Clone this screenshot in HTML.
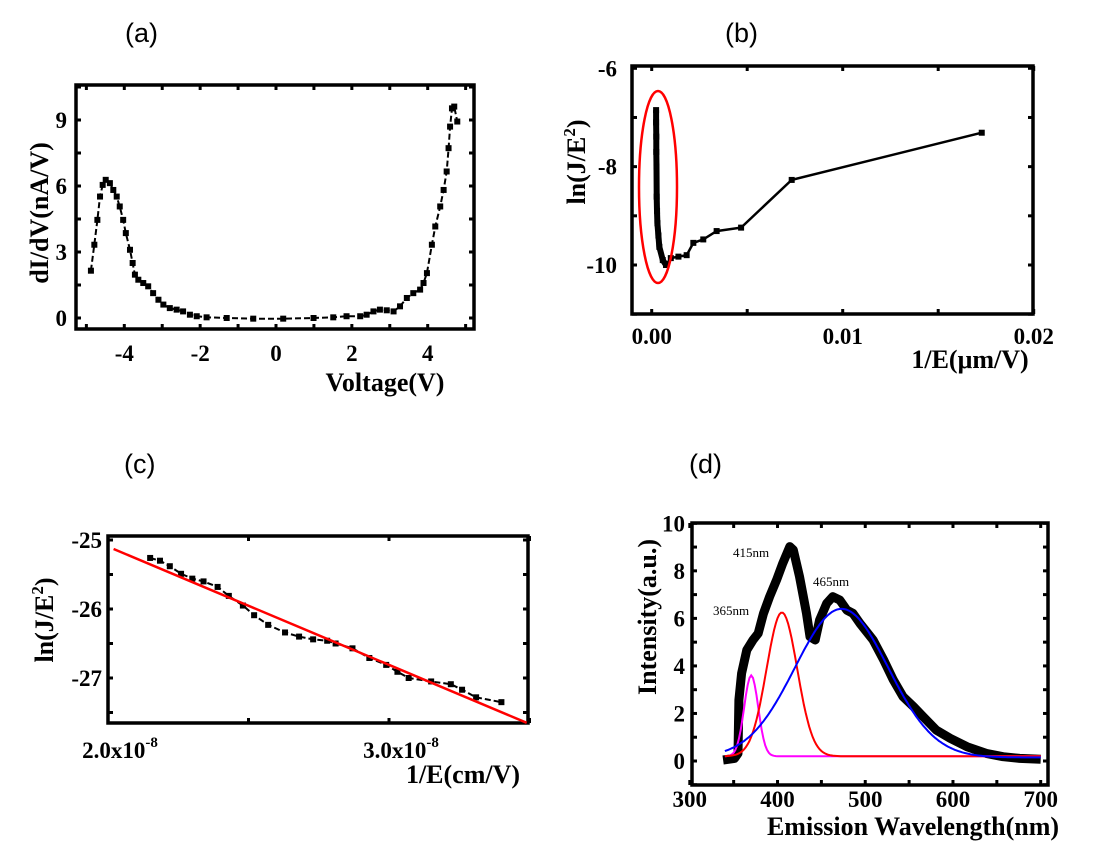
<!DOCTYPE html>
<html><head><meta charset="utf-8"><style>
html,body{margin:0;padding:0;background:#fff;}
svg{display:block;}
.pt{font-family:"Liberation Sans",sans-serif;font-size:27px;fill:#000;}
.tk{font-family:"Liberation Serif",serif;font-weight:bold;font-size:23px;fill:#000;}
.al{font-family:"Liberation Serif",serif;font-weight:bold;font-size:26px;fill:#000;}
.an{font-family:"Liberation Serif",serif;font-size:13px;fill:#000;}
</style></head><body>
<svg id="fig" width="1100" height="847" viewBox="0 0 1100 847" xmlns="http://www.w3.org/2000/svg">
<text class="pt" x="125" y="42">(a)</text>
<text class="pt" x="725" y="42">(b)</text>
<text class="pt" x="124" y="473">(c)</text>
<text class="pt" x="689" y="473">(d)</text>
<text class="al" transform="translate(48,213) rotate(-90)" text-anchor="middle">dI/dV(nA/V)</text>
<text class="al" x="385" y="391" text-anchor="middle">Voltage(V)</text>
<text class="al" transform="translate(585,162) rotate(-90)" text-anchor="middle">ln(J/E<tspan dy="-10" font-size="17">2</tspan><tspan dy="10">)</tspan></text>
<text class="al" x="970" y="368" text-anchor="middle">1/E(μm/V)</text>
<text class="al" transform="translate(53,620) rotate(-90)" text-anchor="middle">ln(J/E<tspan dy="-10" font-size="17">2</tspan><tspan dy="10">)</tspan></text>
<text class="al" x="463" y="783" text-anchor="middle">1/E(cm/V)</text>
<text class="al" transform="translate(656,617) rotate(-90)" text-anchor="middle" font-size="23">Intensity(a.u.)</text>
<text class="al" x="913" y="835" text-anchor="middle" font-size="22">Emission Wavelength(nm)</text>
</svg>
<script>
// Panel (a)
const aX=[-4.88,-4.79,-4.71,-4.64,-4.57,-4.49,-4.38,-4.29,-4.20,-4.12,-4.03,-3.96,-3.85,-3.78,-3.72,-3.63,-3.50,-3.37,-3.24,-3.10,-2.97,-2.80,-2.62,-2.45,-2.27,-2.09,-1.83,-1.30,-0.60,0.19,0.99,1.51,1.86,2.22,2.39,2.57,2.74,2.92,3.10,3.27,3.45,3.62,3.80,3.89,3.98,4.11,4.20,4.33,4.42,4.50,4.55,4.59,4.64,4.70,4.78];
const aY=[2.15,3.33,4.46,5.52,6.05,6.28,6.13,5.82,5.52,5.07,4.46,3.86,3.10,2.50,1.97,1.74,1.59,1.44,1.13,0.83,0.61,0.45,0.38,0.30,0.15,0.08,0.03,0,-0.03,-0.03,0,0.03,0.08,0.08,0.15,0.30,0.38,0.35,0.30,0.53,0.91,1.13,1.29,1.59,2.04,3.33,4.16,5.07,5.82,6.66,7.72,8.70,9.53,9.61,8.93];
const aXTicks=[-4,-2,0,2,4];
const aYTicks=[0,3,6,9];
// Panel (b)
const bX=[0.00023,0.00023,0.00024,0.00024,0.00025,0.00026,0.00028,0.0003,0.00035,0.0004,0.00058,0.00075,0.001,0.0014,0.00183,0.00218,0.0027,0.0034,0.00468,0.00733,0.01728];
const bY=[-6.85,-7.1,-7.39,-7.7,-8.0,-8.61,-8.9,-9.15,-9.4,-9.63,-9.90,-10.0,-9.86,-9.83,-9.80,-9.55,-9.48,-9.31,-9.24,-8.27,-7.31];
const bXTicks=[0,0.01,0.02];
const bXLabels=["0.00","0.01","0.02"];
const bYTicks=[-6,-8,-10];
// Panel (c) x in units of 1e-8
const cX=[2.15,2.185,2.22,2.26,2.30,2.34,2.39,2.43,2.48,2.52,2.57,2.63,2.68,2.73,2.78,2.81,2.87,2.93,2.99,3.03,3.07,3.15,3.22,3.26,3.31,3.40];
const cY=[-25.26,-25.30,-25.38,-25.49,-25.56,-25.60,-25.68,-25.81,-25.95,-26.09,-26.23,-26.34,-26.40,-26.44,-26.46,-26.50,-26.57,-26.71,-26.81,-26.91,-27.00,-27.05,-27.09,-27.17,-27.28,-27.35];
const cFitX=[2.02,3.49];
const cFitY=[-25.13,-27.65];
const cYTicks=[-25,-26,-27];
// Panel (d)
const dX=[338,351,355,356,359,365,372,378,384,391,399,406,414,418,425,433,437,443,448,456,463,471,479,486,494,509,521,532,543,555,566,581,597,616,638,657,676,700];
const dY=[0.04,0.11,0.32,2.57,3.69,4.67,5.09,5.37,6.21,6.91,7.62,8.32,9.02,8.88,7.76,6.21,5.23,5.09,5.93,6.63,6.91,6.77,6.35,6.21,5.79,5.09,4.25,3.41,2.71,2.29,1.87,1.30,0.95,0.60,0.32,0.18,0.11,0.07];
const dPeakCenters=[370,405,473];
const dPeakAmps=[3.4,6.05,6.25];
const dPeakSigmas=[8,17.5,53];
const dBaseline=[0.2,0.2,0.15];
const dPeakColors=["#ff00ff","#ff0000","#0000ff"];
const dPeakNames=["fit-365nm","fit-415nm","fit-465nm"];
const dXTicks=[300,400,500,600,700];
const dYTicks=[0,2,4,6,8,10];

const NS="http://www.w3.org/2000/svg";
const svg=document.getElementById('fig');
function mk(tag,attrs,parent){const e=document.createElementNS(NS,tag);for(const k in attrs)e.setAttribute(k,attrs[k]);(parent||svg).appendChild(e);return e;}
function lin(d0,d1,p0,p1){return v=>p0+(v-d0)*(p1-p0)/(d1-d0);}

function frame(g,L,T,R,B,xs,ys,xt,yt,xminor,yminor){
  const all=(a,b)=>a.concat(b);
  all(xt,xminor).forEach(v=>{const x=xs(v);
    let t=mk('line',{x1:x,y1:B,x2:x,y2:B-5,stroke:'#000','stroke-width':3},g);
    
    
    t=mk('line',{x1:x,y1:T,x2:x,y2:T+5,stroke:'#000','stroke-width':3},g);
    
    });
  all(yt,yminor).forEach(v=>{const y=ys(v);
    let t=mk('line',{x1:L,y1:y,x2:L+5,y2:y,stroke:'#000','stroke-width':3},g);
    
    
    t=mk('line',{x1:R,y1:y,x2:R-5,y2:y,stroke:'#000','stroke-width':3},g);
    
    });
  const r=mk('rect',{x:L,y:T,width:R-L,height:B-T,fill:'none',stroke:'#000','stroke-width':3.5},g);
  
  
}
function txt(g,x,y,s,cls,anchor){const t=mk('text',{x:x,y:y,class:cls,'text-anchor':anchor||'middle'},g);t.textContent=s;return t;}
function pathOf(xs,ys,X,Y){return X.map((v,i)=>(i?'L':'M')+xs(v).toFixed(1)+','+ys(Y[i]).toFixed(1)).join('');}
function squares(g,xs,ys,X,Y,s,name){X.forEach((v,i)=>{const r=mk('rect',{x:xs(v)-s/2,y:ys(Y[i])-s/2,width:s,height:s,fill:'#000'},g);
  
  });}

// ---- Panel A
(function(){
  const g=mk('g',{});
  
  
  const L=76,T=85,R=474,B=329;
  const xs=lin(-4,4,124.3,427.7), ys=lin(0,9,318,120);
  frame(g,L,T,R,B,xs,ys,aXTicks,aYTicks,[-5,-3,-1,1,3,5],[1.5,4.5,7.5,10.5]);
  const p=mk('path',{d:pathOf(xs,ys,aX,aY),fill:'none',stroke:'#000','stroke-width':2,'stroke-dasharray':'6,3'},g);
  
  
  squares(g,xs,ys,aX,aY,6,'didv-point');
  aXTicks.forEach(v=>{const t=txt(g,xs(v),361,String(v),'tk');});
  aYTicks.forEach(v=>{const t=txt(g,67,ys(v)+8,String(v),'tk','end');});
})();
// ---- Panel B
(function(){
  const g=mk('g',{});
  
  
  const L=632,T=66,R=1033,B=314;
  const xs=lin(0,0.01,651.7,842.7), ys=lin(-6,-10,68.3,265);
  frame(g,L,T,R,B,xs,ys,bXTicks,bYTicks,[0.005,0.015],[-7,-9,-11]);
  const p=mk('path',{d:pathOf(xs,ys,bX,bY),fill:'none',stroke:'#000','stroke-width':2.5},g);
  
  
  squares(g,xs,ys,bX,bY,6,'fn-point');
  const steep=mk('path',{d:pathOf(xs,ys,bX.slice(0,12),bY.slice(0,12)),fill:'none',stroke:'#000','stroke-width':6},g);
  
  
  const e=mk('ellipse',{cx:658,cy:187,rx:19,ry:96,fill:'none',stroke:'#ff0000','stroke-width':2.5},g);
  
  
  bXTicks.forEach((v,i)=>{const t=txt(g,xs(v),344,bXLabels[i],'tk');});
  bYTicks.forEach(v=>{const t=txt(g,617,ys(v)+8,String(v),'tk','end');});
})();
// ---- Panel C
(function(){
  const g=mk('g',{});
  
  
  const L=108,T=536,R=528,B=723;
  const xs=lin(2,3,108,389), ys=lin(-25,-27,540,678);
  frame(g,L,T,R,B,xs,ys,[2.0,3.0],cYTicks,[2.5,3.5],[-25.5,-26.5,-27.5]);
  const p=mk('path',{d:pathOf(xs,ys,cX,cY),fill:'none',stroke:'#000','stroke-width':2,'stroke-dasharray':'6,3'},g);
  
  
  squares(g,xs,ys,cX,cY,6,'fn-data-point');
  const f=mk('path',{d:pathOf(xs,ys,cFitX,cFitY),fill:'none',stroke:'#ff0000','stroke-width':2.5},g);
  
  
  [[2.0,'2.0x10'],[3.0,'3.0x10']].forEach(a=>{const t=mk('text',{x:xs(a[0])+12,y:758,class:'tk','text-anchor':'middle'},g);
    t.textContent=a[1];
    const s=mk('tspan',{dy:-11,'font-size':15},t);s.textContent='-8';
    });
  cYTicks.forEach(v=>{const t=txt(g,102,ys(v)+8,String(v),'tk','end');});
})();
// ---- Panel D
(function(){
  const g=mk('g',{});
  
  
  const L=692,T=523,R=1048,B=785;
  const xs=lin(300,700,689.8,1040.7), ys=lin(0,10,761,523.3);
  frame(g,L,T,R,B,xs,ys,dXTicks,dYTicks,[350,450,550,650],[1,3,5,7,9,-1]);
  const p=mk('path',{d:pathOf(xs,ys,dX,dY),fill:'none',stroke:'#000','stroke-width':9,'stroke-linejoin':'round'},g);
  
  
  dPeakCenters.forEach((c,k)=>{
    const X=[],Y=[];
    for(let w=340;w<=700;w+=2){X.push(w);Y.push(dBaseline[k]+dPeakAmps[k]*Math.exp(-Math.pow(w-c,2)/(2*dPeakSigmas[k]*dPeakSigmas[k])));}
    const q=mk('path',{d:pathOf(xs,ys,X,Y),fill:'none',stroke:dPeakColors[k],'stroke-width':2},g);
    
    
  });
  dXTicks.forEach(v=>{const t=txt(g,xs(v),807,String(v),'tk');});
  dYTicks.forEach(v=>{const t=txt(g,685,ys(v)+8,String(v),'tk','end');});
  [[733,557,'415nm'],[813,586,'465nm'],[713,615,'365nm']].forEach(a=>{const t=txt(g,a[0],a[1],a[2],'an','start');
    });
})();
</script>
</body></html>
